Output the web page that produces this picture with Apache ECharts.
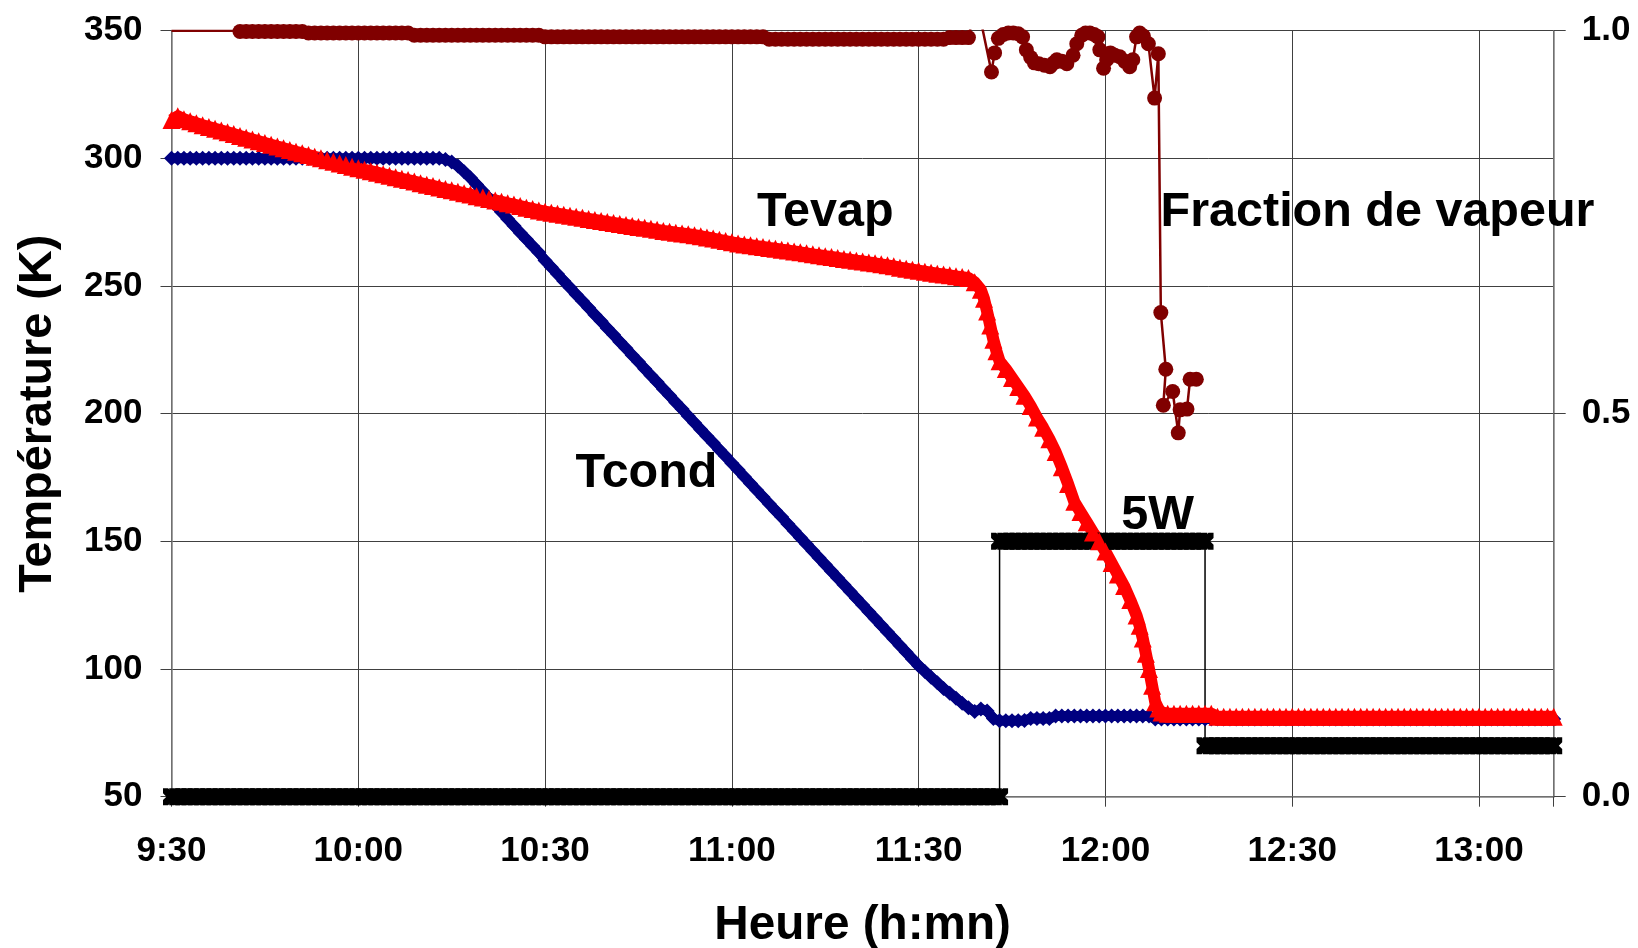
<!DOCTYPE html>
<html>
<head>
<meta charset="utf-8">
<title>Températures et fraction de vapeur</title>
<script src="https://cdn.jsdelivr.net/npm/echarts@6/dist/echarts.min.js"></script>
<style>
  html, body { margin: 0; padding: 0; background: #ffffff; }
  #chart { width: 1638px; height: 948px; }
</style>
</head>
<body>
<div id="chart"></div>
<script>
// Sample clock: one reading per minute, in minutes since midnight
const startMinute = 570;   // 9:30
const endMinute = 792;     // 13:12

// Time axis tick labels
const xTickMinutes = [570, 600, 630, 660, 690, 720, 750, 780];
const xTickLabels = ['9:30', '10:00', '10:30', '11:00', '11:30', '12:00', '12:30', '13:00'];

// Condenser temperature (K), one value per minute from 9:30
const tcond = [
  300,300,300,300,300,300,300,300,300,300,
  300,300,300,300,300,300,300,300,300,300,
  300,300,300,300,300,300,300,300,300,300,
  300,300,300,300,300,300,300,300,300,300,
  300,300,300,300,299.6,298.6,297,294.8,292.4,289.8,
  287.1,284.4,281.7,279,276.3,273.6,270.9,268.3,265.7,263.1,
  260,257.4,254.7,252,249.4,246.7,244.1,241.5,238.8,236.2,
  233.5,230.9,228.2,225.6,222.9,220.3,217.6,215,212.4,209.7,
  207.1,204.4,201.8,199.1,196.5,193.8,191.2,188.6,185.9,183.3,
  180.6,178,175.3,172.7,170,167.4,164.7,162.1,159.5,156.8,
  154.2,151.5,148.9,146.2,143.6,140.9,138.3,135.7,133,130.4,
  127.7,125.1,122.4,119.8,117.1,114.5,111.9,109.2,106.6,103.9,
  101.3,99,96.8,94.6,92.4,90.5,88.6,86.6,84.8,83.4,
  84.3,83.6,80.6,79.7,79.7,79.7,79.7,79.8,80.6,80.6,
  80.6,80.6,81.6,81.6,81.6,81.6,81.6,81.6,81.6,81.6,
  81.6,81.6,81.6,81.6,81.6,81.6,81.6,81.6,80.4,80.4,
  80.4,80.4,80.4,80.4,80.4,80.4,80.4,80.4,80.4,80.4,
  80.4,80.4,80.4,80.4,80.4,80.4,80.4,80.4,80.4,80.4,
  80.4,80.4,80.4,80.4,80.4,80.4,80.4,80.4,80.4,80.4,
  80.4,80.4,80.4,80.4,80.4,80.4,80.4,80.4,80.4,80.4,
  80.4,80.4,80.4,80.4,80.4,80.4,80.4,80.4,80.4,80.4,
  80.4,80.4,80.4,80.4,80.4,80.4,80.4,80.4,80.4,80.4,
  80.4,80.4,80.4
];

// Evaporator temperature (K), one value per minute from 9:30
const tevap = [
  315,316.5,315.3,314.5,313.8,313,312.3,311.6,310.9,310.2,
  309.5,308.8,308.1,307.4,306.7,306,305.3,304.6,304,303.3,
  302.6,302,301.3,300.6,300,299.3,298.7,298,297.4,296.7,
  296.1,295.5,295,294.4,293.8,293.2,292.6,292,291.5,290.9,
  290.3,289.7,289.2,288.6,288,287.5,286.9,286.3,285.8,285.2,
  284.7,284.1,283.5,283,282.4,281.9,281.3,280.7,280.2,279.6,
  279.1,278.7,278.3,277.9,277.5,277.1,276.7,276.3,275.9,275.5,
  275.1,274.7,274.3,273.9,273.5,273.1,272.8,272.4,272,271.6,
  271.3,270.9,270.6,270.3,269.9,269.5,269,268.6,268.1,267.6,
  267.1,266.7,266.3,266,265.6,265.3,264.9,264.6,264.2,263.9,
  263.5,263.2,262.8,262.4,262.1,261.7,261.4,261,260.6,260.3,
  259.9,259.6,259.2,258.9,258.5,258.1,257.7,257.2,256.8,256.4,
  256,255.6,255.2,254.8,254.5,254.2,253.8,253.5,253.1,251.5,
  248.5,240,229,220.5,217.5,214,210.5,207,203,198.5,
  194.5,190,185,179,172.5,165.5,161.5,157.5,153.5,150,
  146,141.5,137,132.5,127,121,112,100,87,83,
  82.5,82.5,82.5,82.5,82.5,82.5,82.5,82.5,81.3,81.3,
  81.3,81.3,81.3,81.3,81.3,81.3,81.3,81.3,81.3,81.3,
  81.3,81.3,81.3,81.3,81.3,81.3,81.3,81.3,81.3,81.3,
  81.3,81.3,81.3,81.3,81.3,81.3,81.3,81.3,81.3,81.3,
  81.3,81.3,81.3,81.3,81.3,81.3,81.3,81.3,81.3,81.3,
  81.3,81.3,81.3,81.3,81.3,81.3,81.3,81.3,81.3,81.3,
  81.3,81.3,81.3
];

// Extra evaporator readings [minute, K] inside the fast drops
const tevapExtra = [
  [700.5, 245], [701.5, 234.5], [702.5, 224.5],
  [725.5, 117], [726.5, 106], [727.5, 93.5], [728.5, 84.5]
];

// Heating power (W), one value per minute from 9:30
const powerW = [
  0,0,0,0,0,0,0,0,0,0, 0,0,0,0,0,0,0,0,0,0,
  0,0,0,0,0,0,0,0,0,0, 0,0,0,0,0,0,0,0,0,0,
  0,0,0,0,0,0,0,0,0,0, 0,0,0,0,0,0,0,0,0,0,
  0,0,0,0,0,0,0,0,0,0, 0,0,0,0,0,0,0,0,0,0,
  0,0,0,0,0,0,0,0,0,0, 0,0,0,0,0,0,0,0,0,0,
  0,0,0,0,0,0,0,0,0,0, 0,0,0,0,0,0,0,0,0,0,
  0,0,0,0,0,0,0,0,0,0, 0,0,0,0,
  5,5,5,5,5,5,5,5,5,5, 5,5,5,5,5,5,5,5,5,5,
  5,5,5,5,5,5,5,5,5,5, 5,5,5,
  1,1,1,1,1,1,1,1,1,1, 1,1,1,1,1,1,1,1,1,1,
  1,1,1,1,1,1,1,1,1,1, 1,1,1,1,1,1,1,1,1,1,
  1,1,1,1,1,1,1,1,1,1, 1,1,1,1,1,1
];
// Power switching instants [minute, new level in W]
const powerSwitches = [[703, 5], [736, 1]];

// Vapour fraction, one value per minute from 9:30 to 11:38
const fracSteady = [
  1,1,1,1,1,1,1,1,1,1,
  1,0.999,0.999,0.999,0.999,0.999,0.999,0.999,0.999,0.999,
  0.999,0.999,0.997,0.997,0.997,0.997,0.997,0.997,0.997,0.997,
  0.997,0.997,0.997,0.997,0.997,0.997,0.997,0.997,0.997,0.994,
  0.994,0.994,0.994,0.994,0.994,0.994,0.994,0.994,0.994,0.994,
  0.994,0.994,0.994,0.994,0.994,0.994,0.994,0.994,0.994,0.994,
  0.992,0.992,0.992,0.992,0.992,0.992,0.992,0.992,0.992,0.992,
  0.992,0.992,0.992,0.992,0.992,0.992,0.992,0.992,0.992,0.992,
  0.992,0.992,0.992,0.992,0.992,0.992,0.992,0.992,0.992,0.992,
  0.992,0.992,0.992,0.992,0.992,0.992,0.989,0.989,0.989,0.989,
  0.989,0.989,0.989,0.989,0.989,0.989,0.989,0.989,0.989,0.989,
  0.989,0.989,0.989,0.989,0.989,0.989,0.989,0.989,0.989,0.989,
  0.989,0.989,0.989,0.989,0.989,0.991,0.991,0.991,0.991
];
// Readings up to this minute are drawn as a plain line (no marker)
const fracLineOnlyUntil = 580;
// Vapour fraction during the unsteady phase [minute, fraction]
const fracBurst = [
  [699.3, 1.04], [701.7, 0.946], [702.2, 0.971], [702.8, 0.990], [703.6, 0.995],
  [704.4, 0.997], [705.2, 0.997], [706.0, 0.996], [706.7, 0.992], [707.3, 0.975],
  [708.0, 0.965], [708.6, 0.958], [709.3, 0.957], [710.2, 0.955], [711.1, 0.953],
  [711.7, 0.958], [712.2, 0.962], [713.0, 0.960], [713.8, 0.957], [714.8, 0.968],
  [715.4, 0.983], [716.2, 0.994], [716.8, 0.997], [717.5, 0.997], [718.2, 0.995],
  [718.8, 0.992], [719.1, 0.975], [719.7, 0.951], [720.2, 0.962], [720.8, 0.971],
  [721.5, 0.968], [722.3, 0.966], [723.1, 0.960], [723.9, 0.953], [724.4, 0.962],
  [725.0, 0.992], [725.5, 0.997], [726.1, 0.993], [726.9, 0.983], [727.9, 0.912],
  [728.5, 0.970], [728.9, 0.632], [729.7, 0.558], [729.3, 0.511], [730.8, 0.529],
  [731.7, 0.475], [732.0, 0.505], [733.1, 0.506], [733.6, 0.545], [734.6, 0.545]
];

// In-plot captions [text, minute, K]
const annotations = [
  ['Tevap', 675.0, 278.8],
  ['Fraction de vapeur', 763.7, 278.8],
  ['Tcond', 646.3, 176.7],
  ['5W', 728.4, 160.1]
];

// ---- build series data from the arrays above ----
const minuteAt = i => startMinute + i;

const tcondData = tcond.map((v, i) => [minuteAt(i), v]);

const tevapData = tevap.map((v, i) => [minuteAt(i), v])
  .concat(tevapExtra)
  .sort((a, b) => a[0] - b[0]);

const powerData = [];
powerW.forEach((w, i) => {
  const t = minuteAt(i);
  powerData.push([t, w]);
  powerSwitches.forEach(s => { if (s[0] === t) powerData.push([t, s[1]]); });
});

const fracData = fracSteady.map((v, i) => {
  const t = minuteAt(i);
  return t <= fracLineOnlyUntil ? { value: [t, v], symbol: 'none' } : [t, v];
}).concat(fracBurst);

// ---- styling ----
const font = "'Liberation Sans', Arial, Helvetica, sans-serif";
const gridColor = '#404040';
const axisColor = '#808080';
const crossMarker = 'path://M0 0L6 0L10 4L14 0L20 0L20 6L16 10L20 14L20 20L14 20L10 16L6 20L0 20L0 14L4 10L0 6Z';

const tickText = { fontFamily: font, fontWeight: 'bold', fontSize: 35, color: '#000' };
const titleText = { fontFamily: font, fontWeight: 'bold', fontSize: 47.7, color: '#000' };

const chart = echarts.init(document.getElementById('chart'), null, { renderer: 'canvas' });

chart.setOption({
  animation: false,
  backgroundColor: '#ffffff',
  grid: {
    left: 171.5, right: 84.3, top: 30.7, bottom: 151.3,
    containLabel: false,
    outerBoundsMode: 'none'
  },
  xAxis: {
    type: 'value',
    min: startMinute,
    max: endMinute,
    interval: 30,
    name: 'Heure (h:mn)',
    nameLocation: 'middle',
    nameGap: 105,
    nameTextStyle: titleText,
    axisLine: { show: true, onZero: false, lineStyle: { color: axisColor, width: 1.5 } },
    axisTick: { show: true, length: 10, lineStyle: { color: gridColor, width: 1 } },
    axisLabel: Object.assign({
      margin: 37,
      formatter: v => {
        const k = xTickMinutes.indexOf(v);
        return k >= 0 ? xTickLabels[k] : '';
      }
    }, tickText),
    splitLine: { show: true, lineStyle: { color: gridColor, width: 1 } }
  },
  yAxis: [
    {
      type: 'value',
      position: 'left',
      min: 50,
      max: 350,
      interval: 50,
      name: 'Température (K)',
      nameLocation: 'middle',
      nameGap: 110,
      nameTextStyle: Object.assign({}, titleText, { fontSize: 46.8 }),
      axisLine: { show: true, lineStyle: { color: axisColor, width: 1.5 } },
      axisTick: { show: true, length: 11, lineStyle: { color: gridColor, width: 1 } },
      axisLabel: Object.assign({ margin: 29 }, tickText),
      splitLine: { show: true, lineStyle: { color: gridColor, width: 1 } }
    },
    {
      type: 'value',
      position: 'right',
      min: 0,
      max: 1,
      interval: 0.5,
      axisLine: { show: true, lineStyle: { color: axisColor, width: 1.5 } },
      axisTick: { show: true, length: 12, lineStyle: { color: gridColor, width: 1 } },
      axisLabel: Object.assign({ margin: 28, formatter: v => v.toFixed(1) }, tickText),
      splitLine: { show: false }
    },
    {
      // heating power scale (not displayed): 0 W at the bottom, 15 W at the top
      type: 'value',
      min: 0,
      max: 15,
      show: false
    }
  ],
  series: [
    {
      name: 'Puissance',
      type: 'line',
      yAxisIndex: 2,
      data: powerData,
      clip: false,
      symbol: crossMarker,
      symbolSize: 17,
      itemStyle: { color: '#000000' },
      lineStyle: { color: '#000000', width: 1.5 },
      silent: true
    },
    {
      name: 'Tcond',
      type: 'line',
      yAxisIndex: 0,
      data: tcondData,
      clip: false,
      symbol: 'diamond',
      symbolSize: 15,
      itemStyle: { color: '#000080' },
      lineStyle: { color: '#000080', width: 10, join: 'round' },
      silent: true
    },
    {
      name: 'Tevap',
      type: 'line',
      yAxisIndex: 0,
      data: tevapData,
      clip: false,
      symbol: 'triangle',
      symbolSize: 18,
      itemStyle: { color: '#ff0000' },
      lineStyle: { color: '#ff0000', width: 12, join: 'round' },
      silent: true
    },
    {
      name: 'Fraction de vapeur',
      type: 'line',
      yAxisIndex: 1,
      data: fracData,
      clip: true,
      symbol: 'circle',
      symbolSize: 15,
      itemStyle: { color: '#800000' },
      lineStyle: { color: '#800000', width: 2.5 },
      silent: true
    }
  ]
});

// Captions placed at data coordinates through the chart's own scales
function placeCaptions() {
  chart.setOption({
    graphic: annotations.map(a => {
      const p = chart.convertToPixel({ xAxisIndex: 0, yAxisIndex: 0 }, [a[1], a[2]]);
      return {
        type: 'text',
        x: p[0],
        y: p[1],
        silent: true,
        z: 100,
        style: {
          text: a[0],
          fill: '#000000',
          font: "bold 48.5px 'Liberation Sans', Arial, Helvetica, sans-serif",
          align: 'center',
          verticalAlign: 'middle'
        }
      };
    })
  });
}
placeCaptions();
</script>
</body>
</html>
